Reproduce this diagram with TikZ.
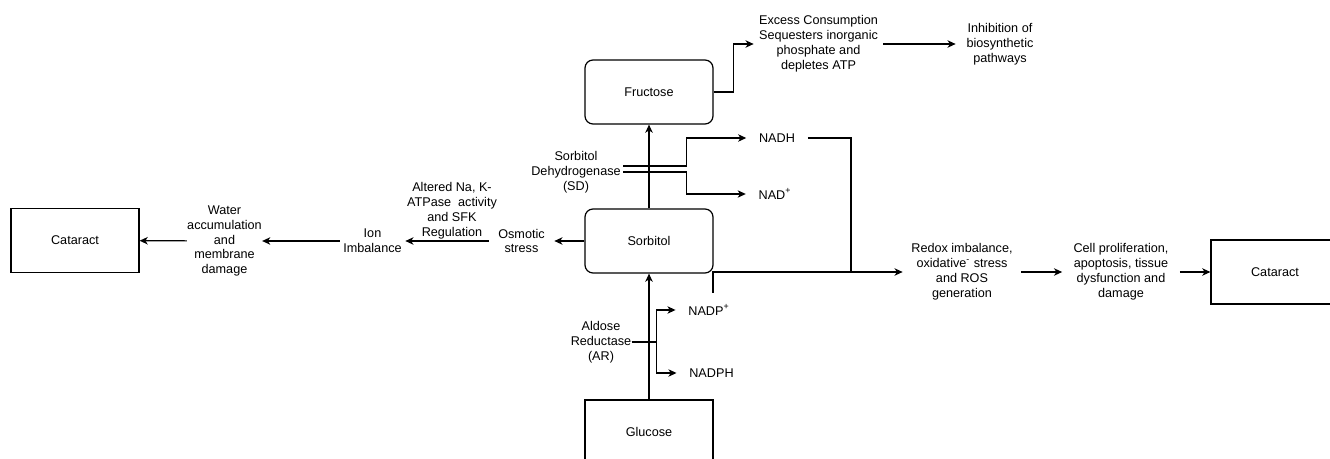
\documentclass[tikz,border=0pt]{standalone}
\usepackage{fontspec}
\setmainfont{Liberation Sans}
\usepackage{xcolor}
\usepackage{tikz}
\usetikzlibrary{arrows.meta}

\begin{document}
\begin{tikzpicture}[
    x=0.02cm, y=-0.02cm,
    font=\fontsize{7.2}{8.5}\selectfont,
    box/.style={rectangle, draw=black, line width=0.7pt, minimum width=2.56cm, minimum height=1.28cm, inner sep=0pt, align=center},
    rbox/.style={box, rounded corners=0.16cm},
    lbl/.style={align=center, inner sep=0pt},
    chem/.style={inner xsep=0.25cm, inner ysep=0pt, minimum height=0.68cm},
    arrow/.style={-{Stealth[length=4.6pt, width=4.2pt, inset=1.3pt]}, line width=0.7pt}
]
\clip (0,0) rectangle (1330,459);

% Nodes
\node[rbox] (fructose) at (649,92) {Fructose};
\node[rbox] (sorbitol) at (649,241) {Sorbitol};
\node[box] (glucose) at (649,432) {Glucose};
\node[box] (cataractL) at (75,240.5) {Cataract};
\node[box] (cataractR) at (1275,272) {Cataract};

\node[lbl, minimum width=1.3cm] (osmotic) at (521.5,241) {Osmotic\\stress};
\node[lbl, minimum width=1.3cm] (ion) at (372.5,241) {Ion\\Imbalance};
\node[lbl, minimum width=1.3cm] (water) at (224.5,241) {Water\\accumulation\\and\\membrane\\damage};

\node[lbl, minimum width=1.88cm] (sd) at (576,172) {Sorbitol\\Dehydrogenase\\(SD)};
\node[chem] (nadh) at (777,138) {NADH};
\node[chem] (nad) at (775,194) {NAD\textsuperscript{+}};

\node[lbl] (ar) at (601,342) {Aldose\\Reductase\\(AR)};
\node[chem] (nadpp) at (709,310) {NADP\textsuperscript{+}};
\node[chem] (nadph) at (711.5,373) {NADPH};

\node[lbl, minimum width=2.58cm] (excess) at (818.5,44) {Excess Consumption\\Sequesters inorganic\\phosphate and\\depletes ATP};
\node[lbl, minimum width=1.76cm] (inhib) at (1000,44) {Inhibition of\\biosynthetic\\pathways};
\node[lbl, minimum width=2.36cm] (redox) at (962,272) {Redox imbalance,\\oxidative\textsuperscript{-} stress\\and ROS\\generation};
\node[lbl, minimum width=2.34cm] (cell) at (1121,272) {Cell proliferation,\\apoptosis, tissue\\dysfunction and\\damage};

\coordinate (join) at (851,272);

% Arrows
\draw[arrow] (glucose) -- (sorbitol);
\draw[arrow] (sorbitol) -- (fructose);

\draw[arrow] (sorbitol) -- (osmotic);
\draw[arrow] (osmotic) -- node[lbl, above=1pt, xshift=0.1cm] {Altered Na, K-\\ATPase~~activity\\and SFK\\Regulation} (ion);
\draw[arrow] (ion) -- (water);
\draw[arrow] (water) -- (cataractL);

\draw[arrow] ([yshift=0.12cm]sd.east) -- ++(63,0) |- (nadh.west);
\draw[arrow] (sd.east) -- ++(63,0) |- (nad.west);

\draw[arrow] (ar.east) -- ++(25,0) |- (nadpp.west);
\draw[arrow] (ar.east) -- ++(25,0) |- (nadph.west);

\draw[arrow] (fructose.east) -- ++(20,0) |- (excess.west);
\draw[arrow] (excess) -- (inhib);

\draw[line width=0.7pt] (nadh.east) -| (join);
\draw[arrow] ([xshift=0.08cm]nadpp.north) |- (redox.west);
\draw[arrow] (redox) -- (cell);
\draw[arrow] (cell) -- (cataractR);

\end{tikzpicture}
\end{document}
